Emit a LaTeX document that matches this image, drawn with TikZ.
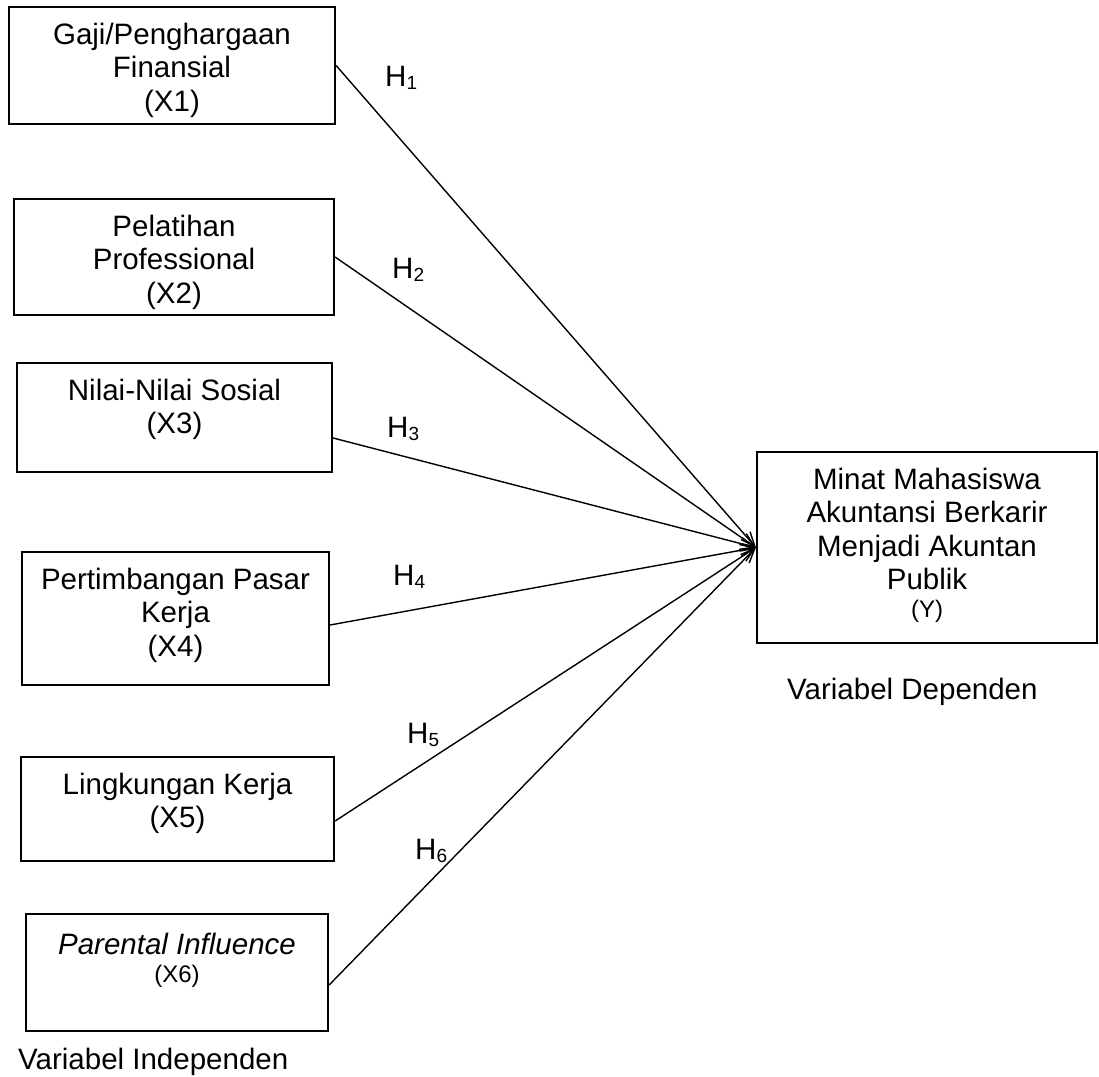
\documentclass[tikz,border=0pt]{standalone}
\usepackage{fontspec}
\setmainfont{Liberation Sans}
\usetikzlibrary{arrows.meta}
\newcommand\bigf{\fontsize{29.5}{33.5}\selectfont}
\newcommand\smallf{\fontsize{24}{27}\selectfont}
\newcommand\hsub[1]{{\fontsize{19}{20}\selectfont\raisebox{-3pt}{#1}}}
\begin{document}
\begin{tikzpicture}[x=1pt,y=-1pt,
  box/.style={draw, line width=2.2pt, inner sep=0pt},
  txt/.style={anchor=north, inner sep=0pt, align=center, font=\bigf},
  conn/.style={line width=1.4pt, -{Straight Barb[length=14pt,width=12pt,line width=1.4pt]}},
  hlab/.style={anchor=base west, inner sep=0pt, font=\bigf},
  captext/.style={anchor=base west, inner sep=0pt, font=\bigf}]
\useasboundingbox (0,0) rectangle (1099,1076);

% boxes
\node[box, minimum width=326pt, minimum height=117pt] (b1) at (172,65.5) {};
\node[box, minimum width=320pt, minimum height=116pt] (b2) at (174,257) {};
\node[box, minimum width=315pt, minimum height=109pt] (b3) at (174.5,417.5) {};
\node[box, minimum width=307pt, minimum height=133pt] (b4) at (175.5,618.5) {};
\node[box, minimum width=313pt, minimum height=104pt] (b5) at (177.5,809) {};
\node[box, minimum width=302pt, minimum height=117pt] (b6) at (177,972.5) {};
\node[box, minimum width=340pt, minimum height=191pt] (bY) at (927,547.5) {};

% texts
\node[txt] (t1) at ([yshift=-14.5pt]b1.north) {\strut Gaji/Penghargaan\\Finansial\\(X1)};
\node[txt] (t2) at ([yshift=-14.5pt]b2.north) {\strut Pelatihan\\Professional\\(X2)};
\node[txt] (t3) at ([yshift=-14.5pt]b3.north) {\strut Nilai-Nilai Sosial\\(X3)};
\node[txt] (t4) at ([yshift=-14.5pt]b4.north) {\strut Pertimbangan Pasar\\Kerja\\(X4)};
\node[txt] (t5) at ([yshift=-14.5pt]b5.north) {\strut Lingkungan Kerja\\(X5)};
\node[txt] (t6) at ([yshift=-17.5pt]b6.north) {\strut\itshape Parental Influence\\[-5pt]{\smallf (X6)}};
\node[txt] (tY) at ([yshift=-14.5pt]bY.north) {\strut Minat Mahasiswa\\Akuntansi Berkarir\\Menjadi Akuntan\\Publik\\[-6pt]{\smallf (Y)}};

% start points
\coordinate (s3) at ([yshift=-20.5pt]b3.east);
\coordinate (s4) at ([yshift=-6.5pt]b4.east);
\coordinate (s5) at ([yshift=-12pt]b5.east);
\coordinate (s6) at ([yshift=-12.5pt]b6.east);

% connectors
\draw[conn] (b1.east) -- (bY.west);
\draw[conn] (b2.east) -- (bY.west);
\draw[conn] (s3) -- (bY.west);
\draw[conn] (s4) -- (bY.west);
\draw[conn] (s5) -- (bY.west);
\draw[conn] (s6) -- (bY.west);

% hypothesis labels
\node[hlab] (h1) at (385,86) {H\hsub{1}};
\node[hlab] (h2) at (392,278) {H\hsub{2}};
\node[hlab] (h3) at (387,437) {H\hsub{3}};
\node[hlab] (h4) at (393,585) {H\hsub{4}};
\node[hlab] (h5) at (407,743) {H\hsub{5}};
\node[hlab] (h6) at (415,859) {H\hsub{6}};

% captions
\node[captext] (ci) at (18,1069) {Variabel Independen};
\node[captext] (cd) at (787,699) {Variabel Dependen};
\end{tikzpicture}
\end{document}
